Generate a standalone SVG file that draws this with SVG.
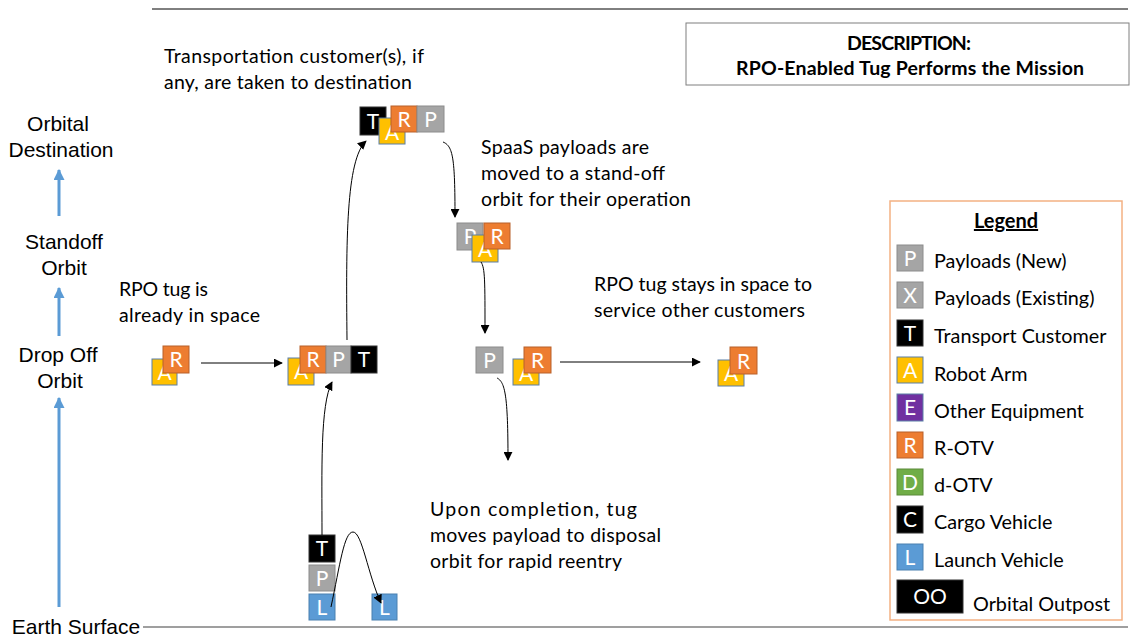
<svg xmlns="http://www.w3.org/2000/svg" width="1130" height="636" viewBox="0 0 1130 636">
<defs>
<marker id="ah" viewBox="0 0 10 10" refX="9" refY="5" markerWidth="9" markerHeight="9" markerUnits="userSpaceOnUse" orient="auto">
<path d="M0,0 L10,5 L0,10 z" fill="#000"/>
</marker>
<marker id="bh" viewBox="0 0 10 10" refX="9" refY="5" markerWidth="11" markerHeight="11" markerUnits="userSpaceOnUse" orient="auto">
<path d="M0,0 L10,5 L0,10 z" fill="#5B9BD5"/>
</marker>
<style>
.ax{font-family:"Liberation Sans",Arial,sans-serif;font-size:21px;fill:#000;text-anchor:middle}
.tx{font-family:Lato,"Open Sans",sans-serif;font-size:19.5px;fill:#000}
.lg{font-family:Lato,"Open Sans",sans-serif;font-size:19.8px;fill:#000}
.bl{font-family:Lato,"Open Sans",sans-serif;font-size:21px;fill:#fff;text-anchor:middle}
.desc{font-family:Lato,"Open Sans",sans-serif;font-size:19.5px;font-weight:bold;fill:#000;text-anchor:middle}
.P{fill:#A5A5A5;stroke:#8C8C8C;stroke-width:1}
.T{fill:#000;stroke:#333;stroke-width:1}
.A{fill:#FFC000;stroke:#5A7FA6;stroke-width:1}
.R{fill:#ED7D31;stroke:#B8612A;stroke-width:1}
.E{fill:#7030A0;stroke:#5A7FA6;stroke-width:1}
.D{fill:#70AD47;stroke:#5A8A3A;stroke-width:1}
.L{fill:#5B9BD5;stroke:#4A80B0;stroke-width:1}
.cn{fill:none;stroke:#000;stroke-width:1;marker-end:url(#ah)}
.ua{fill:none;stroke:#5B9BD5;stroke-width:3;marker-end:url(#bh)}
</style>
</defs>
<rect width="1130" height="636" fill="#fff"/>
<line x1="152" y1="9" x2="1128" y2="9" stroke="#000" stroke-width="1"/>
<line x1="143" y1="627" x2="1128" y2="627" stroke="#7F7F7F" stroke-width="1.5"/>

<g id="axis">
<text class="ax" x="58" y="131">Orbital</text>
<text class="ax" x="61" y="157">Destination</text>
<text class="ax" x="64" y="249">Standoff</text>
<text class="ax" x="64" y="275">Orbit</text>
<text class="ax" x="58" y="362">Drop Off</text>
<text class="ax" x="60" y="388">Orbit</text>
<text class="ax" x="76" y="634">Earth Surface</text>
<path class="ua" d="M59,216 L59,170"/>
<path class="ua" d="M59,336 L59,288"/>
<path class="ua" d="M59,607 L59,398"/>
</g>

<g id="description">
<rect x="686" y="23" width="443" height="62" fill="#fff" stroke="#7F7F7F" stroke-width="1"/>
<text class="desc" x="909" y="50" textLength="124">DESCRIPTION:</text>
<text class="desc" x="910" y="75" textLength="348">RPO-Enabled Tug Performs the Mission</text>
</g>

<g id="labels">
<text class="tx" x="164" y="63" textLength="260">Transportation customer(s), if</text>
<text class="tx" x="164" y="89" textLength="248">any, are taken to destination</text>
<text class="tx" x="481" y="154" textLength="168">SpaaS payloads are</text>
<text class="tx" x="481" y="180" textLength="184">moved to a stand-off</text>
<text class="tx" x="481" y="206" textLength="210">orbit for their operation</text>
<text class="tx" x="119" y="296" textLength="89">RPO tug is</text>
<text class="tx" x="119" y="322" textLength="141">already in space</text>
<text class="tx" x="594" y="291" textLength="218">RPO tug stays in space to</text>
<text class="tx" x="594" y="317" textLength="211">service other customers</text>
<text class="tx" x="430" y="516" textLength="207">Upon completion, tug</text>
<text class="tx" x="430" y="542" textLength="231">moves payload to disposal</text>
<text class="tx" x="430" y="568" textLength="192">orbit for rapid reentry</text>
</g>

<g id="node-tug-start">
<rect class="A" x="152" y="359" width="25" height="26"/><text class="bl" x="164.5" y="380">A</text>
<rect class="R" x="163" y="346" width="26" height="27"/><text class="bl" x="176" y="367">R</text>
</g>

<g id="node-dropoff-stack">
<rect class="A" x="288" y="358" width="26" height="27"/><text class="bl" x="301" y="379">A</text>
<rect class="R" x="300" y="346" width="26" height="27"/><text class="bl" x="313" y="367">R</text>
<rect class="P" x="326" y="346" width="25" height="27"/><text class="bl" x="338.5" y="367">P</text>
<rect class="T" x="351" y="346" width="26" height="27"/><text class="bl" x="364" y="367">T</text>
</g>

<g id="node-destination">
<rect class="T" x="360" y="107" width="26" height="28"/><text class="bl" x="373" y="129">T</text>
<rect class="A" x="379" y="118" width="26" height="26"/><text class="bl" x="392" y="140">A</text>
<rect class="R" x="391" y="106" width="26" height="26"/><text class="bl" x="404" y="127">R</text>
<rect class="P" x="417" y="106" width="27" height="26"/><text class="bl" x="430.5" y="127">P</text>
</g>

<g id="node-standoff">
<rect class="P" x="457" y="223" width="26" height="27"/><text class="bl" x="470" y="244">P</text>
<rect class="A" x="472" y="235" width="26" height="27"/><text class="bl" x="485" y="257">A</text>
<rect class="R" x="484" y="223" width="26" height="26"/><text class="bl" x="497" y="244">R</text>
</g>

<g id="node-dropoff-return">
<rect class="P" x="476" y="347" width="27" height="26"/><text class="bl" x="489.5" y="368">P</text>
<rect class="A" x="513" y="359" width="26" height="26"/><text class="bl" x="526" y="381">A</text>
<rect class="R" x="524" y="347" width="27" height="26"/><text class="bl" x="537.5" y="368">R</text>
</g>

<g id="node-tug-stays">
<rect class="A" x="718" y="360" width="26" height="26"/><text class="bl" x="731" y="381">A</text>
<rect class="R" x="730" y="347" width="27" height="27"/><text class="bl" x="743.5" y="369">R</text>
</g>

<g id="node-launch">
<rect class="T" x="309" y="535" width="26" height="27"/><text class="bl" x="322" y="556">T</text>
<rect class="P" x="309" y="565" width="26" height="26"/><text class="bl" x="322" y="586">P</text>
<rect class="L" x="309" y="594" width="26" height="26"/><text class="bl" x="322" y="615">L</text>
</g>

<g id="node-launch-return">
<rect class="L" x="372" y="594" width="25" height="26"/><text class="bl" x="384.5" y="615">L</text>
</g>

<g id="connectors">
<path class="cn" d="M201,363 L282,363"/>
<path class="cn" d="M347,340 C346,240 346,160 366,141"/>
<path class="cn" d="M443,142 C453,146 455,158 455,217"/>
<path class="cn" d="M481,262 C485,268 485,280 485,333"/>
<path class="cn" d="M497,378 C505,382 508,395 508,460"/>
<path class="cn" d="M560,362 L700,362"/>
<path class="cn" d="M322,535 C322,470 320,405 332,382"/>
<path class="cn" d="M331,607 C340,565 344,532 353,532 C362,532 368,575 381,603"/>
</g>

<g id="legend">
<rect x="890" y="201" width="232" height="419" fill="#fff" stroke="#F4B183" stroke-width="1.5"/>
<text x="1006" y="228" font-family="Lato,'Open Sans',sans-serif" font-size="20" font-weight="bold" text-anchor="middle" text-decoration="underline">Legend</text>
<rect class="P" x="897" y="245" width="26" height="26"/><text class="bl" x="910" y="266">P</text>
<text class="lg" x="934" y="268">Payloads (New)</text>
<rect class="P" x="897" y="282" width="26" height="26"/><text class="bl" x="910" y="303">X</text>
<text class="lg" x="934" y="305">Payloads (Existing)</text>
<rect class="T" x="897" y="320" width="26" height="26"/><text class="bl" x="910" y="341">T</text>
<text class="lg" x="934" y="343">Transport Customer</text>
<rect class="A" x="897" y="357" width="26" height="26"/><text class="bl" x="910" y="378">A</text>
<text class="lg" x="934" y="381">Robot Arm</text>
<rect class="E" x="897" y="394" width="26" height="27"/><text class="bl" x="910" y="415">E</text>
<text class="lg" x="934" y="418">Other Equipment</text>
<rect class="R" x="897" y="432" width="26" height="26"/><text class="bl" x="910" y="453">R</text>
<text class="lg" x="934" y="455">R-OTV</text>
<rect class="D" x="897" y="469" width="26" height="26"/><text class="bl" x="910" y="490">D</text>
<text class="lg" x="934" y="492">d-OTV</text>
<rect class="T" x="897" y="506" width="26" height="27"/><text class="bl" x="910" y="527">C</text>
<text class="lg" x="934" y="529">Cargo Vehicle</text>
<rect class="L" x="897" y="544" width="26" height="26"/><text class="bl" x="910" y="565">L</text>
<text class="lg" x="934" y="567">Launch Vehicle</text>
<rect class="T" x="897" y="580" width="66" height="33"/><text class="bl" x="930" y="604">OO</text>
<text class="lg" x="973" y="611">Orbital Outpost</text>
</g>
</svg>
